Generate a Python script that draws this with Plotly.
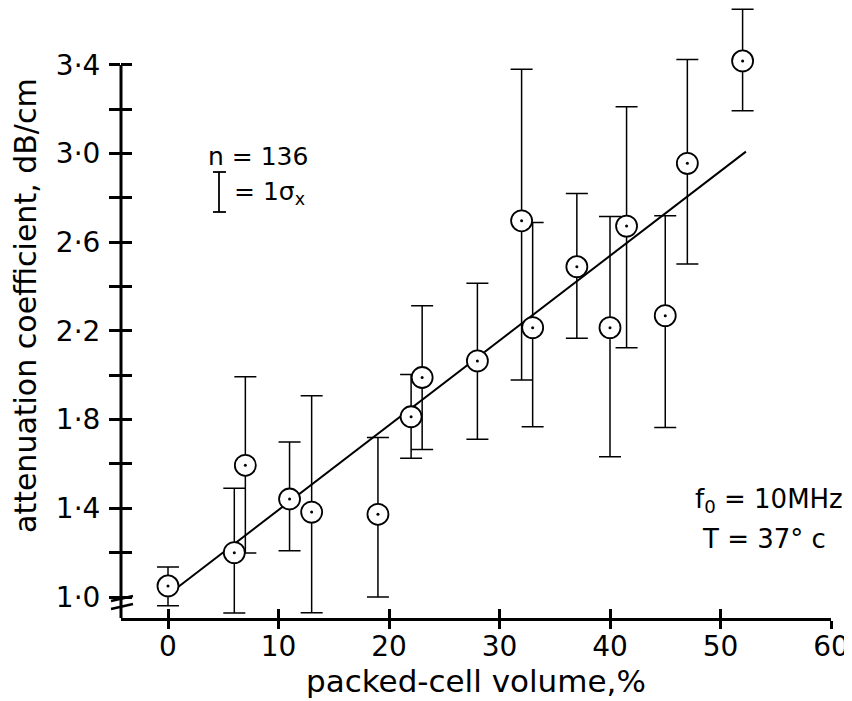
import plotly.graph_objects as go

# ---- data ----
pcv = [0, 6, 7, 11, 13, 19, 22, 23, 28, 32, 33, 37, 40, 41.5, 45, 47, 52]
atten = [1.05, 1.20, 1.594, 1.442, 1.383, 1.373, 1.813, 1.99, 2.065, 2.697, 2.215, 2.49, 2.215, 2.673, 2.269, 2.956, 3.418]
err_hi = [1.135, 1.49, 1.994, 1.699, 1.908, 1.72, 2.004, 2.314, 2.415, 3.38, 2.689, 2.82, 2.716, 3.211, 2.72, 3.425, 3.651]
err_lo = [0.96, 0.928, 1.198, 1.209, 0.929, 1.0, 1.626, 1.665, 1.711, 1.979, 1.768, 2.167, 1.633, 2.124, 1.765, 2.502, 3.193]
fit_x = [0, 52.3]
fit_y = [1.0105, 3.009]

x_ticks = [0, 10, 20, 30, 40, 50, 60]
y_ticks = [1.0, 1.4, 1.8, 2.2, 2.6, 3.0, 3.4]
y_ticktext = ["1·0", "1·4", "1·8", "2·2", "2·6", "3·0", "3·4"]
y_minor = [1.2, 1.6, 2.0, 2.4, 2.8, 3.2]

# ---- layout geometry (page pixels; the page body has an 8px margin) ----
OFF = 8
W, H = 852 - OFF, 701 - OFF
L, R, T, B = 121, 831, OFF, 618          # plot area in page pixels
XR = [-4.253, 60.0]
YR = [1 - (B - 597) / 221.7, 1 + (597 - T) / 221.7]


def px(xp):
    return (xp - L) / (R - L)


def py(yp):
    return (B - yp) / (B - T)


FONT = "DejaVu Sans"
INK = "black"

up = [h - v for h, v in zip(err_hi, atten)]
down = [v - l for v, l in zip(atten, err_lo)]

fig = go.Figure()

fig.add_trace(go.Scatter(
    x=fit_x, y=fit_y, mode="lines",
    line=dict(color=INK, width=2), showlegend=False, hoverinfo="skip"))

fig.add_trace(go.Scatter(
    x=pcv, y=atten, mode="markers", cliponaxis=False,
    marker=dict(symbol="circle", size=21, color="white",
                line=dict(color=INK, width=1.8)),
    error_y=dict(type="data", symmetric=False, array=up, arrayminus=down,
                 color=INK, thickness=1.5, width=11),
    showlegend=False))

# centre dots drawn on the overlay axes (above the circles)
fig.add_trace(go.Scatter(
    x=pcv, y=atten, mode="markers", xaxis="x2", yaxis="y2",
    marker=dict(symbol="circle", size=3, color=INK),
    showlegend=False, hoverinfo="skip"))

tickfont = dict(family=FONT, size=28, color=INK)

fig.update_layout(
    width=W, height=H,
    margin=dict(l=L - OFF, r=852 - R, t=T - OFF, b=701 - B),
    paper_bgcolor="white", plot_bgcolor="white",
    xaxis=dict(range=XR, tickvals=x_ticks, ticktext=[str(v) for v in x_ticks],
               ticks="outside", ticklen=8, tickwidth=3, tickcolor=INK,
               showline=True, linecolor=INK, linewidth=3,
               showgrid=False, zeroline=False, tickfont=tickfont,
               ticklabelstandoff=-7),
    yaxis=dict(range=YR, tickvals=y_ticks, ticktext=y_ticktext,
               ticks="outside", ticklen=11, tickwidth=3, tickcolor=INK,
               minor=dict(tickvals=y_minor, ticks="outside", ticklen=11,
                          tickwidth=3, tickcolor=INK, showgrid=False),
               showline=False, showgrid=False, zeroline=False,
               tickfont=tickfont, ticklabelstandoff=3),
    xaxis2=dict(range=XR, overlaying="x", side="bottom", tickvals=x_ticks,
                ticks="inside", ticklen=9, tickwidth=3, tickcolor=INK,
                showticklabels=False, showgrid=False, zeroline=False,
                showline=False),
    yaxis2=dict(range=YR, overlaying="y", side="left", tickvals=y_ticks,
                ticks="inside", ticklen=11, tickwidth=3, tickcolor=INK,
                minor=dict(tickvals=y_minor, ticks="inside", ticklen=11,
                           tickwidth=3, tickcolor=INK, showgrid=False),
                showticklabels=False, showgrid=False, zeroline=False,
                showline=False),
)

shapes = [
    # y axis spine ending at 3.4
    dict(type="line", xref="paper", yref="y", x0=0, x1=0, y0=YR[0], y1=3.4,
         line=dict(color=INK, width=3)),
    # axis break marks
    dict(type="line", xref="paper", yref="paper",
         x0=px(111), x1=px(133), y0=py(601), y1=py(596),
         line=dict(color=INK, width=2.5)),
    dict(type="line", xref="paper", yref="paper",
         x0=px(111), x1=px(133), y0=py(609), y1=py(604),
         line=dict(color=INK, width=2.5)),
    # legend error-bar symbol
    dict(type="line", xref="paper", yref="paper",
         x0=px(219), x1=px(219), y0=py(172), y1=py(212),
         line=dict(color=INK, width=1.8)),
    dict(type="line", xref="paper", yref="paper",
         x0=px(213), x1=px(226), y0=py(172), y1=py(172),
         line=dict(color=INK, width=1.8)),
    dict(type="line", xref="paper", yref="paper",
         x0=px(213), x1=px(226), y0=py(212), y1=py(212),
         line=dict(color=INK, width=1.8)),
]
fig.update_layout(shapes=shapes)

ann = [
    dict(text="attenuation coefficient, dB/cm", x=px(25), y=py(306),
         textangle=-90, font=dict(family=FONT, size=30, color=INK),
         xanchor="center", yanchor="middle"),
    dict(text="packed-cell volume,%", x=px(476), y=py(681),
         font=dict(family=FONT, size=31, color=INK),
         xanchor="center", yanchor="middle"),
    dict(text="n = 136", x=px(206), y=py(157),
         font=dict(family=FONT, size=25, color=INK),
         xanchor="left", yanchor="middle"),
    dict(text="= 1σ<sub>x</sub>", x=px(232), y=py(193),
         font=dict(family=FONT, size=25, color=INK),
         xanchor="left", yanchor="middle"),
    dict(text="f<sub>0</sub> = 10MHz", x=px(693), y=py(500),
         font=dict(family=FONT, size=26, color=INK),
         xanchor="left", yanchor="middle"),
    dict(text="T = 37° c", x=px(700), y=py(539),
         font=dict(family=FONT, size=26, color=INK),
         xanchor="left", yanchor="middle"),
]
for a in ann:
    a.update(xref="paper", yref="paper", showarrow=False)
fig.update_layout(annotations=ann)

fig.write_html("out.html")
